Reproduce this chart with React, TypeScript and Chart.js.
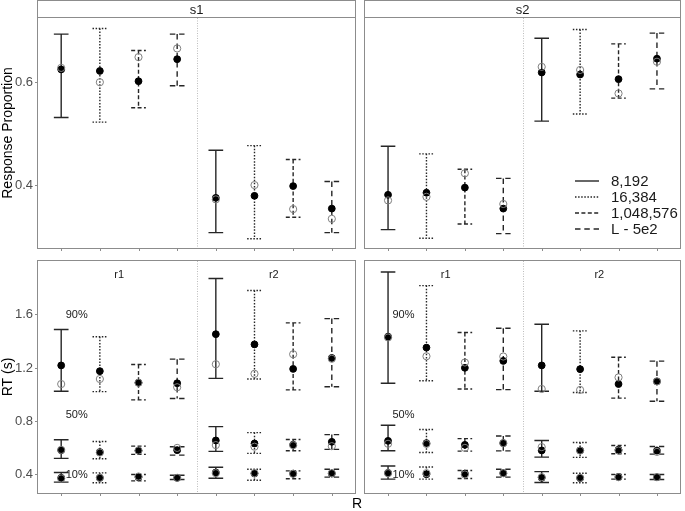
import React, { useEffect, useRef } from 'react';
import { Chart, registerables } from 'chart.js';

Chart.register(...registerables);

const FONT = '"Liberation Sans", Arial, Helvetica, sans-serif';

// x positions (8 bars per panel: two groups of four sample sizes)
const categories = [1, 2, 3, 4, 5, 6, 7, 8];
const seriesNames = ['8,192', '16,384', '1,048,576', 'L - 5e2'];
const seriesDashes = [[], [1.5, 1.6], [4, 2.4], [5.5, 3.8]];

const propTicks = [0.4, 0.6];
const rtTicks = [0.4, 0.8, 1.2, 1.6];

// Response proportion, s1
const s1Lower = [0.532, 0.523, 0.551, 0.594, 0.307, 0.295, 0.337, 0.307];
const s1Upper = [0.695, 0.706, 0.663, 0.695, 0.468, 0.477, 0.45, 0.407];
const s1Filled = [0.626, 0.623, 0.603, 0.646, 0.375, 0.379, 0.398, 0.354];
const s1Open = [0.629, 0.601, 0.65, 0.667, 0.372, 0.4, 0.353, 0.334];

// Response proportion, s2
const s2Lower = [0.313, 0.296, 0.324, 0.305, 0.525, 0.539, 0.57, 0.588];
const s2Upper = [0.476, 0.461, 0.431, 0.413, 0.687, 0.704, 0.676, 0.697];
const s2Filled = [0.381, 0.385, 0.395, 0.354, 0.62, 0.616, 0.607, 0.647];
const s2Open = [0.37, 0.377, 0.423, 0.363, 0.631, 0.625, 0.579, 0.641];

// RT quantiles, s1 (rows: 10%, 50%, 90%)
const rtS1Lower = [
  [0.343, 0.338, 0.352, 0.362, 0.372, 0.357, 0.368, 0.38],
  [0.521, 0.519, 0.551, 0.546, 0.574, 0.559, 0.579, 0.589],
  [1.026, 1.023, 0.961, 0.971, 1.123, 1.118, 1.036, 1.06],
];
const rtS1Upper = [
  [0.415, 0.412, 0.4, 0.394, 0.455, 0.44, 0.427, 0.44],
  [0.661, 0.648, 0.613, 0.609, 0.76, 0.715, 0.663, 0.7],
  [1.49, 1.436, 1.227, 1.267, 1.873, 1.783, 1.54, 1.572],
];
const rtS1Filled = [
  [0.375, 0.375, 0.38, 0.375, 0.415, 0.407, 0.407, 0.407],
  [0.583, 0.569, 0.579, 0.583, 0.656, 0.633, 0.624, 0.646],
  [1.22, 1.177, 1.09, 1.086, 1.455, 1.378, 1.194, 1.276],
];
const rtS1Open = [
  [0.37, 0.375, 0.385, 0.375, 0.41, 0.41, 0.405, 0.41],
  [0.585, 0.565, 0.58, 0.6, 0.621, 0.609, 0.62, 0.613],
  [1.08, 1.118, 1.09, 1.056, 1.229, 1.157, 1.304, 1.27],
];

// RT quantiles, s2 (rows: 10%, 50%, 90%)
const rtS2Lower = [
  [0.365, 0.365, 0.37, 0.38, 0.34, 0.338, 0.365, 0.362],
  [0.579, 0.566, 0.576, 0.578, 0.531, 0.529, 0.556, 0.553],
  [1.086, 1.105, 1.043, 1.038, 1.026, 1.016, 0.974, 0.951],
];
const rtS2Upper = [
  [0.464, 0.457, 0.43, 0.44, 0.422, 0.41, 0.4, 0.4],
  [0.77, 0.738, 0.67, 0.69, 0.656, 0.641, 0.618, 0.611],
  [1.922, 1.82, 1.468, 1.5, 1.53, 1.48, 1.282, 1.252],
];
const rtS2Filled = [
  [0.412, 0.402, 0.407, 0.41, 0.375, 0.373, 0.382, 0.38],
  [0.653, 0.636, 0.623, 0.636, 0.581, 0.581, 0.586, 0.579],
  [1.436, 1.354, 1.202, 1.254, 1.22, 1.192, 1.08, 1.1],
];
const rtS2Open = [
  [0.41, 0.41, 0.4, 0.41, 0.38, 0.375, 0.38, 0.38],
  [0.631, 0.63, 0.6, 0.636, 0.606, 0.58, 0.58, 0.57],
  [1.43, 1.289, 1.242, 1.287, 1.043, 1.036, 1.13, 1.1],
];

// in-panel annotations (data coordinates)
const groupLabels = ['r1', 'r2'];
const groupLabelX = [2.5, 6.5];
const groupLabelY = 1.9;
const quantileLabels = ['10%', '50%', '90%'];
const quantileLabelX = 1.4;
const quantileLabelY = [0.4, 0.85, 1.6];

type ErrSet = { lo: number[]; hi: number[]; filled: number[]; open: number[] };

type PanelSpec = {
  sets: ErrSet[];
  yMin: number;
  yMax: number;
  yTicks?: number[];
  yTitle?: string;
  strip?: string;
  rtLabels?: boolean;
  legend?: boolean;
  padding: { left: number; right: number; top: number; bottom: number };
};

const CAP_HALF = 0.19;

function makePlugin(p: PanelSpec) {
  return {
    id: 'panelDecor',
    beforeDatasetsDraw(chart: any) {
      const { ctx, chartArea: a, scales } = chart;
      const xs = scales.x;
      const ys = scales.y;
      ctx.save();
      // group separator
      const sx = Math.round(xs.getPixelForValue(4.5)) + 0.5;
      ctx.strokeStyle = '#bdbdbd';
      ctx.lineWidth = 1;
      ctx.setLineDash([1, 1.5]);
      ctx.beginPath();
      ctx.moveTo(sx, a.top);
      ctx.lineTo(sx, a.bottom);
      ctx.stroke();
      // error bars
      ctx.strokeStyle = '#262626';
      ctx.lineWidth = 1.4;
      ctx.lineCap = 'butt';
      ctx.lineJoin = 'miter';
      for (const s of p.sets) {
        for (let i = 0; i < categories.length; i++) {
          const c = categories[i];
          ctx.setLineDash(seriesDashes[i % 4]);
          const x = xs.getPixelForValue(c);
          const xl = xs.getPixelForValue(c - CAP_HALF);
          const xr = xs.getPixelForValue(c + CAP_HALF);
          const yl = ys.getPixelForValue(s.lo[i]);
          const yh = ys.getPixelForValue(s.hi[i]);
          ctx.beginPath();
          ctx.moveTo(xl, yh);
          ctx.lineTo(xr, yh);
          ctx.moveTo(x, yh);
          ctx.lineTo(x, yl);
          ctx.moveTo(xl, yl);
          ctx.lineTo(xr, yl);
          ctx.stroke();
        }
      }
      ctx.restore();
    },
    afterDraw(chart: any) {
      const { ctx, chartArea: a, scales } = chart;
      const xs = scales.x;
      const ys = scales.y;
      ctx.save();
      ctx.setLineDash([]);
      // x tick marks
      ctx.strokeStyle = '#8c8c8c';
      ctx.lineWidth = 1;
      for (const c of categories) {
        const x = Math.round(xs.getPixelForValue(c)) + 0.5;
        ctx.beginPath();
        ctx.moveTo(x, a.bottom);
        ctx.lineTo(x, a.bottom + 3);
        ctx.stroke();
      }
      // panel border
      ctx.strokeStyle = '#8c8c8c';
      ctx.strokeRect(
        Math.round(a.left) - 0.5,
        Math.round(a.top) - 0.5,
        Math.round(a.right - a.left) + 1,
        Math.round(a.bottom - a.top) + 1
      );
      // strip
      if (p.strip) {
        const top = Math.round(a.top) - 17;
        ctx.fillStyle = '#ffffff';
        ctx.fillRect(a.left, top, a.right - a.left, 17);
        ctx.strokeRect(Math.round(a.left) - 0.5, top - 0.5, Math.round(a.right - a.left) + 1, 17);
        ctx.fillStyle = '#1a1a1a';
        ctx.font = `13px ${FONT}`;
        ctx.textAlign = 'center';
        ctx.textBaseline = 'middle';
        ctx.fillText(p.strip, (a.left + a.right) / 2, top + 9);
      }
      // RT annotations
      if (p.rtLabels) {
        ctx.fillStyle = '#1a1a1a';
        ctx.font = `11px ${FONT}`;
        ctx.textAlign = 'center';
        ctx.textBaseline = 'middle';
        groupLabels.forEach((t, i) => {
          ctx.fillText(t, xs.getPixelForValue(groupLabelX[i]), ys.getPixelForValue(groupLabelY));
        });
        quantileLabels.forEach((t, i) => {
          ctx.fillText(t, xs.getPixelForValue(quantileLabelX), ys.getPixelForValue(quantileLabelY[i]));
        });
      }
      // legend
      if (p.legend) {
        const x0 = a.left + 210;
        const rowY = [181, 197, 213, 229];
        ctx.font = `15px ${FONT}`;
        ctx.textAlign = 'left';
        ctx.textBaseline = 'middle';
        seriesNames.forEach((name, i) => {
          ctx.strokeStyle = '#262626';
          ctx.lineWidth = 1.4;
          ctx.setLineDash(seriesDashes[i]);
          ctx.beginPath();
          ctx.moveTo(x0, rowY[i]);
          ctx.lineTo(x0 + 24, rowY[i]);
          ctx.stroke();
          ctx.setLineDash([]);
          ctx.fillStyle = '#1a1a1a';
          ctx.fillText(name, x0 + 36, rowY[i] + 1);
        });
      }
      ctx.restore();
    },
  };
}

function buildConfig(p: PanelSpec): any {
  const filledPts: { x: number; y: number }[] = [];
  const openPts: { x: number; y: number }[] = [];
  for (const s of p.sets) {
    categories.forEach((c, i) => {
      filledPts.push({ x: c, y: s.filled[i] });
      openPts.push({ x: c, y: s.open[i] });
    });
  }
  const showY = !!p.yTicks;
  return {
    type: 'scatter',
    data: {
      datasets: [
        {
          label: 'open',
          data: openPts,
          pointRadius: 3.6,
          pointBackgroundColor: 'rgba(0,0,0,0)',
          pointBorderColor: '#7f7f7f',
          pointBorderWidth: 1,
        },
        {
          label: 'filled',
          data: filledPts,
          pointRadius: 3.4,
          pointBackgroundColor: '#000000',
          pointBorderColor: '#000000',
          pointBorderWidth: 1,
        },
      ],
    },
    options: {
      animation: false,
      responsive: false,
      devicePixelRatio: 1,
      layout: { padding: p.padding },
      plugins: { legend: { display: false }, tooltip: { enabled: false }, title: { display: false } },
      scales: {
        x: {
          type: 'linear',
          min: 0.4,
          max: 8.6,
          display: false,
        },
        y: {
          type: 'linear',
          min: p.yMin,
          max: p.yMax,
          display: showY,
          position: 'left',
          afterBuildTicks: (s: any) => {
            if (p.yTicks) s.ticks = p.yTicks.map((v) => ({ value: v }));
          },
          afterFit: (s: any) => {
            s.width = showY ? 38 : 0;
            s.paddingTop = 0;
            s.paddingBottom = 0;
          },
          border: { display: false },
          grid: {
            drawOnChartArea: false,
            drawTicks: true,
            tickLength: 3,
            color: '#8c8c8c',
          },
          ticks: {
            color: '#4d4d4d',
            padding: 2,
            font: { size: 13, family: FONT },
            callback: (v: any) => Number(v).toFixed(1),
          },
          title: {
            display: showY,
            text: p.yTitle || '',
            color: '#000000',
            font: { size: 14, family: FONT },
            padding: { top: 0, bottom: 0 },
          },
        },
      },
    },
    plugins: [makePlugin(p)],
  };
}

function Panel(props: { spec: PanelSpec; left: number; top: number; width: number; height: number }) {
  const ref = useRef<HTMLCanvasElement | null>(null);
  useEffect(() => {
    if (!ref.current) return;
    const chart = new Chart(ref.current, buildConfig(props.spec));
    return () => chart.destroy();
  }, []);
  return (
    <canvas
      ref={ref}
      width={props.width}
      height={props.height}
      style={{ position: 'absolute', left: props.left, top: props.top, width: props.width, height: props.height }}
    />
  );
}

const toSets = (lo: number[][], hi: number[][], f: number[][], o: number[][]): ErrSet[] =>
  lo.map((_, k) => ({ lo: lo[k], hi: hi[k], filled: f[k], open: o[k] }));

const PROP_MIN = 0.277;
const PROP_MAX = 0.7265;
const RT_MIN = 0.261;
const RT_MAX = 2.005;

export default function App() {
  const tl: PanelSpec = {
    sets: [{ lo: s1Lower, hi: s1Upper, filled: s1Filled, open: s1Open }],
    yMin: PROP_MIN,
    yMax: PROP_MAX,
    yTicks: propTicks,
    yTitle: 'Response Proportion',
    strip: 's1',
    padding: { left: 0, right: 2, top: 18, bottom: 8 },
  };
  const tr: PanelSpec = {
    sets: [{ lo: s2Lower, hi: s2Upper, filled: s2Filled, open: s2Open }],
    yMin: PROP_MIN,
    yMax: PROP_MAX,
    strip: 's2',
    legend: true,
    padding: { left: 2, right: 2, top: 18, bottom: 8 },
  };
  const bl: PanelSpec = {
    sets: toSets(rtS1Lower, rtS1Upper, rtS1Filled, rtS1Open),
    yMin: RT_MIN,
    yMax: RT_MAX,
    yTicks: rtTicks,
    yTitle: 'RT (s)',
    rtLabels: true,
    padding: { left: 0, right: 2, top: 3, bottom: 18 },
  };
  const br: PanelSpec = {
    sets: toSets(rtS2Lower, rtS2Upper, rtS2Filled, rtS2Open),
    yMin: RT_MIN,
    yMax: RT_MAX,
    rtLabels: true,
    padding: { left: 2, right: 2, top: 3, bottom: 18 },
  };
  return (
    <div style={{ position: 'absolute', left: 0, top: 0, width: 685, height: 511, background: '#fff', overflow: 'hidden' }}>
      <Panel spec={tl} left={0} top={0} width={360} height={256} />
      <Panel spec={tr} left={360} top={0} width={325} height={256} />
      <Panel spec={bl} left={0} top={256} width={360} height={255} />
      <Panel spec={br} left={360} top={256} width={325} height={255} />
      <div
        style={{
          position: 'absolute',
          left: 337,
          top: 496,
          width: 40,
          textAlign: 'center',
          font: `14px ${FONT}`,
          color: '#000',
          lineHeight: '14px',
        }}
      >
        R
      </div>
    </div>
  );
}
